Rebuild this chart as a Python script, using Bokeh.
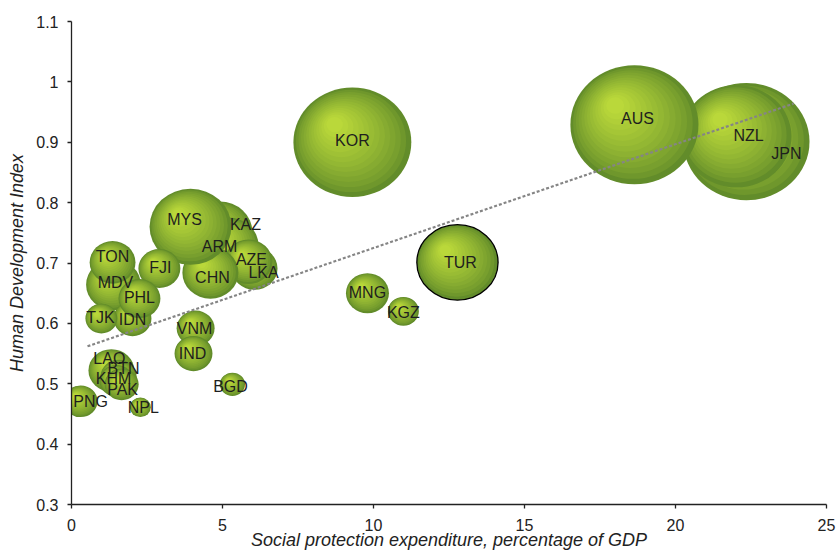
import math
from bokeh.plotting import figure
from bokeh.models import ColumnDataSource, FixedTicker, Range1d, Label
from bokeh.embed import file_html
from bokeh.resources import INLINE

# ---------------- data ----------------
countries = ["JPN", "NZL", "AUS", "KOR", "TUR", "MNG", "KGZ", "KAZ", "ARM", "LKA",
             "AZE", "CHN", "MYS", "FJI", "MDV", "TON", "IDN", "PHL", "TJK", "VNM",
             "IND", "LAO", "BTN", "KHM", "PAK", "PNG", "NPL", "BGD"]
spend = [22.35, 22.02, 18.64, 9.30, 12.78, 9.80, 10.99, 4.90, 5.20, 6.06,
         5.86, 4.60, 3.94, 2.91, 1.39, 1.36, 2.02, 2.25, 0.99, 4.11,
         4.04, 1.32, 1.56, 1.49, 1.66, 0.30, 2.28, 5.33]
hdi = [0.901, 0.910, 0.929, 0.900, 0.701, 0.650, 0.620, 0.751, 0.729, 0.691,
       0.702, 0.684, 0.760, 0.691, 0.664, 0.701, 0.608, 0.641, 0.608, 0.592,
       0.550, 0.522, 0.512, 0.505, 0.499, 0.471, 0.461, 0.499]
bubble = [159, 121, 164, 139, 66, 18.5, 9.6, 43.6, 36, 21.2,
          23, 31.4, 67, 17.6, 30, 21, 14.4, 17.6, 10.2, 14.4,
          14.4, 21, 13, 11.6, 11.6, 11.6, 4.4, 6.3]
highlighted = ["TUR"]

trend_x = [0.53, 23.91]
trend_y = [0.562, 0.964]

x_ticks = [0, 5, 10, 15, 20, 25]
y_ticks = [0.3, 0.4, 0.5, 0.6, 0.7, 0.8, 0.9, 1.0, 1.1]
y_tick_labels = ["0.3", "0.4", "0.5", "0.6", "0.7", "0.8", "0.9", "1", "1.1"]

x_title = "Social protection expenditure, percentage of GDP"
y_title = "Human Development Index"

# label nudges in screen pixels (style only; dy positive = downwards)
label_dx = [40, 12, 3, 0, 3, 0, 0, 26, -9, 9,
            3, 2, -6, 1, 2, 0, 0, 0, -1, -1,
            -1, -2, 5, -3, 1, 10, 3, -2]
label_dy = [12, -1, -6, -2, 0, -1, 1, -8, 1, 4,
            -2, 5, -7, -1, -2, -6, 1, -1, -1, 0,
            0, -12, -8, -2, 5, 0, 0, 2]

# ---------------- layout ----------------
W, H = 837, 555
BL, BR, BT, BB = 71, 11, 21, 51
XMIN, XMAX, YMIN, YMAX = 0, 25, 0.3, 1.1
FW = W - BL - BR
FH = H - BT - BB
px_x = FW / (XMAX - XMIN)
px_y = FH / (YMAX - YMIN)

FONT = "Liberation Sans"
N_LAYERS = 14
outer_rgb = (98, 140, 42)
inner_rgb = (186, 216, 58)


def mix(t):
    g = t ** 0.75
    r = [int(round(o + (i - o) * g)) for o, i in zip(outer_rgb, inner_rgb)]
    return "#%02x%02x%02x" % tuple(r)


rows = dict(x=[], y=[], w=[], h=[], color=[], lalpha=[])
for name, sx, hy, b in zip(countries, spend, hdi, bubble):
    d = 10.0 * math.sqrt(b)
    dh = d * 0.93
    for k in range(N_LAYERS):
        t = k / (N_LAYERS - 1)
        f = 1.0 - 0.86 * t
        shift = t * 0.30 * (d / 2.0)
        rows["x"].append(sx - shift / px_x)
        rows["y"].append(hy + shift / px_y)
        rows["w"].append(d * f)
        rows["h"].append(dh * f)
        rows["color"].append(mix(t))
        rows["lalpha"].append(1.0 if (k == 0 and name in highlighted) else 0.0)

src = ColumnDataSource(rows)

p = figure(width=W, height=H, output_backend="svg", toolbar_location=None,
           x_range=Range1d(XMIN, XMAX), y_range=Range1d(YMIN, YMAX),
           min_border_left=BL, min_border_right=BR, min_border_top=BT,
           min_border_bottom=BB)
p.background_fill_color = "white"
p.border_fill_color = "white"
p.outline_line_color = None
p.xgrid.visible = False
p.ygrid.visible = False

p.ellipse(x="x", y="y", width="w", height="h", width_units="screen",
          height_units="screen", source=src, fill_color="color",
          line_color="black", line_alpha="lalpha", line_width=1.3)

p.line(trend_x, trend_y, line_color="#858585", line_width=2.2, line_dash="3 2")

for name, sx, hy, dx, dy in zip(countries, spend, hdi, label_dx, label_dy):
    p.add_layout(Label(x=sx, y=hy, text=name, x_offset=dx, y_offset=-dy,
                       text_font=FONT, text_font_size="16px",
                       text_color="#1e1e1e", text_align="center",
                       text_baseline="middle"))

for ax in (p.xaxis[0], p.yaxis[0]):
    ax.axis_line_color = "#222222"
    ax.axis_line_width = 1.3
    ax.major_tick_line_color = "#222222"
    ax.major_tick_line_width = 1.3
    ax.major_tick_out = 4
    ax.major_tick_in = 0
    ax.minor_tick_line_color = None
    ax.major_label_text_font = FONT
    ax.major_label_text_font_size = "16px"
    ax.major_label_text_color = "#222222"
    ax.axis_label_text_font = FONT
    ax.axis_label_text_font_size = "18px"
    ax.axis_label_text_font_style = "italic"
    ax.axis_label_text_color = "#222222"

p.xaxis[0].ticker = FixedTicker(ticks=x_ticks)
p.yaxis[0].ticker = FixedTicker(ticks=y_ticks)
p.yaxis[0].major_label_overrides = {t: s for t, s in zip(y_ticks, y_tick_labels)}
p.xaxis[0].axis_label = x_title
p.yaxis[0].axis_label = y_title
p.xaxis[0].major_label_standoff = 10
p.xaxis[0].axis_label_standoff = -4
p.yaxis[0].major_label_standoff = 9
p.yaxis[0].axis_label_standoff = 6

open("out.html", "w").write(file_html(p, INLINE))
